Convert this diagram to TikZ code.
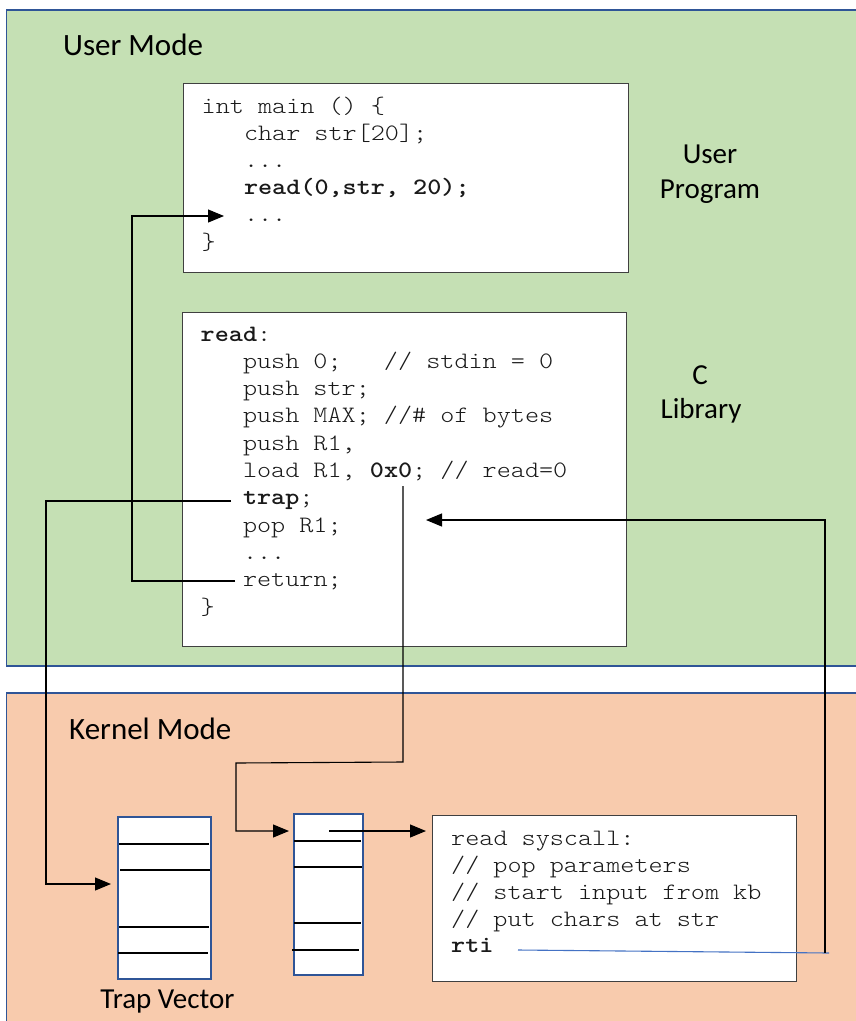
\documentclass[tikz,border=0pt]{standalone}
\usepackage{fontspec}
\setmainfont{Carlito}
\setmonofont[FakeStretch=1.143]{Latin Modern Mono Light}
\usetikzlibrary{arrows.meta}
\definecolor{ugreen}{HTML}{C5E0B4}
\definecolor{korange}{HTML}{F8CBAD}
\definecolor{pblue}{HTML}{2F5597}
\definecolor{rtiblue}{HTML}{4472C4}
\definecolor{boxgray}{HTML}{404040}
\definecolor{codecol}{HTML}{1A1A1A}
\newcommand{\ind}{\hspace*{42.3pt}}
\begin{document}
\begin{tikzpicture}[x=1pt,y=-1pt,
  panel/.style={draw=pblue,line width=1.8pt},
  codebox/.style={draw=boxgray,fill=white,line width=1.2pt,anchor=north west,inner sep=0pt},
  tablebox/.style={draw=pblue,fill=white,line width=2.2pt,anchor=north west,inner sep=0pt},
  rowline/.style={draw=black,line width=1.1pt},
  codeline/.style={font=\fontsize{23.5}{27}\selectfont\ttfamily,text=codecol,inner sep=0pt,anchor=base west},
  biglbl/.style={font=\fontsize{31}{37}\selectfont,inner sep=0pt,anchor=base west},
  lbl/.style={font=\fontsize{29}{35}\selectfont,inner sep=0pt,anchor=base},
  conn/.style={draw=black,line width=1.1pt,-{Triangle[length=16pt,width=13pt]}}]
\clip (0,0) rectangle (856,1021);
\fill[white] (0,0) rectangle (856,1021);
% panels
\draw[panel,fill=ugreen] (6.5,10) rectangle (900,666);
\draw[panel,fill=korange] (6.5,693) rectangle (900,1060);
% labels
\node[biglbl] (um) at (63,55) {User Mode};
\node[biglbl] (km) at (69,739) {Kernel Mode};
\node[lbl] (up1) at (710,163) {User};
\node[lbl] (up2) at (710,198) {Program};
\node[lbl] (cl1) at (700,384) {C};
\node[lbl] (cl2) at (701,418) {Library};
\node[lbl] (tv) at (167.5,1008) {Trap Vector};
% code boxes
\node[codebox,minimum width=445pt,minimum height=189pt] (prog) at (183,83) {};
\node[codebox,minimum width=444pt,minimum height=334pt] (lib) at (182,312) {};
\node[codebox,minimum width=364pt,minimum height=166pt] (sys) at (432,815) {};
% tables
\node[tablebox,minimum width=93pt,minimum height=162pt] (trapvec) at (117,816) {};
\draw[rowline] (119,844) -- (209,844);
\draw[rowline] (120,870) -- (210,870);
\draw[rowline] (119,927) -- (209,927);
\draw[rowline] (118,953) -- (208,953);
\node[tablebox,minimum width=69pt,minimum height=161pt] (disp) at (293,813) {};
\draw[rowline] (294,841) -- (361,841);
\draw[rowline] (294,867) -- (362,867);
\draw[rowline] (294,923) -- (361,923);
\draw[rowline] (292,950) -- (359,950);
% program code
\node[codeline] (p0) at (201.5,113) {int main () \{};
\node[codeline] (p1) at (201.5,140.2) {\ind char str[20];};
\node[codeline] (p2) at (201.5,167.4) {\ind ...};
\node[codeline] (p3) at (201.5,194.6) {\ind\textbf{read(0,str, 20);}};
\node[codeline] (p4) at (201.5,221.8) {\ind ...};
\node[codeline] (p5) at (201.5,249) {\}};
% library code
\node[codeline] (l0) at (200.5,341) {\textbf{read}:};
\node[codeline] (l1) at (200.5,368.3) {\ind push 0;\ \ \ // stdin = 0};
\node[codeline] (l2) at (200.5,395.6) {\ind push str;};
\node[codeline] (l3) at (200.5,422.9) {\ind push MAX; //\# of bytes};
\node[codeline] (l4) at (200.5,450.2) {\ind push R1,};
\node[codeline] (l5) at (200.5,477.5) {\ind load R1, \textbf{0x0}; // read=0};
\node[codeline] (l6) at (200.5,504.8) {\ind\textbf{trap};};
\node[codeline] (l7) at (200.5,532.1) {\ind pop R1;};
\node[codeline] (l8) at (200.5,559.4) {\ind ...};
\node[codeline] (l9) at (200.5,586.7) {\ind return;};
\node[codeline] (l10) at (200.5,614) {\}};
% syscall code
\node[codeline] (s0) at (451,845.7) {read syscall:};
\node[codeline] (s1) at (451,872.5) {// pop parameters};
\node[codeline] (s2) at (451,899.3) {// start input from kb};
\node[codeline] (s3) at (451,926.1) {// put chars at str};
\node[codeline] (s4) at (451,952.9) {\textbf{rti}};
% connector points
\coordinate (ret) at (235,581);
\coordinate (afterRead) at (224,216);
\coordinate (trapL) at (231,501);
\coordinate (tvIn) at (111,884);
\coordinate (zx) at (403,486);
\coordinate (dispIn) at (289,831);
\coordinate (dispOut) at (329,831);
\coordinate (sysIn) at (426,831);
\coordinate (rtiEnd) at (518,950);
\coordinate (rtiR) at (829,953);
\coordinate (rtiUp) at (825,953);
\coordinate (popIn) at (426,520);
% connectors
\draw[conn] (ret) -- ++(-103,0) |- (afterRead);
\draw[conn] (trapL) -- ++(-185,0) |- (tvIn);
\draw[conn] (zx) -- ++(0,276) -- ++(-167,1) |- (dispIn);
\draw[conn] (dispOut) -- (sysIn);
\draw[rtiblue,line width=1.1pt] (rtiEnd) -- (rtiR);
\draw[conn] (rtiUp) |- (popIn);
\end{tikzpicture}
\end{document}
